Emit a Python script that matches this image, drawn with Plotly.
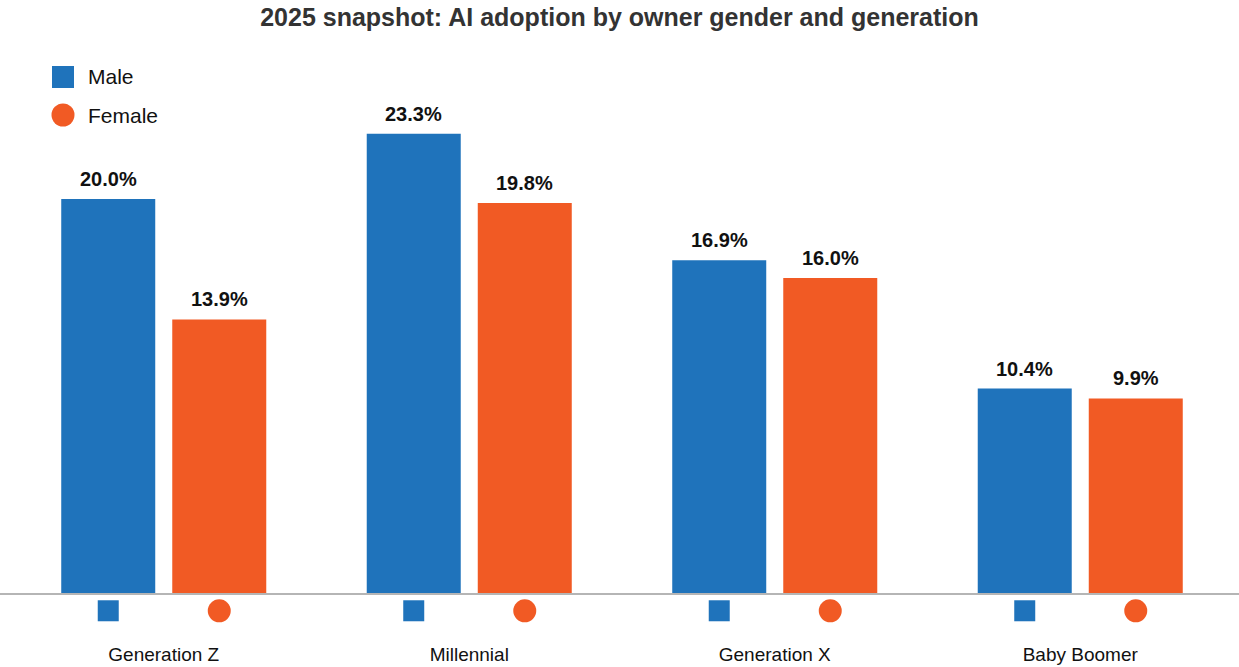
import plotly.graph_objects as go

categories = ["Generation Z", "Millennial", "Generation X", "Baby Boomer"]
male = [20.0, 23.3, 16.9, 10.4]
female = [13.9, 19.8, 16.0, 9.9]
series_names = ["Male", "Female"]

BLUE = "#1f73bb"
ORANGE = "#f15a24"
FONT = "Liberation Sans, Arial, sans-serif"

W, H = 1239, 667
L, R, T, B = 11, 6, 40, 27
bar_w = 0.3077
off = 0.1817
idx = list(range(len(categories)))

fig = go.Figure()
for vals, name, color, sgn in [(male, series_names[0], BLUE, -1), (female, series_names[1], ORANGE, 1)]:
    xs = [i + sgn * off for i in idx]
    fig.add_trace(go.Bar(x=xs, y=vals, width=bar_w, name=name, marker=dict(color=color, line=dict(width=0)),
                         showlegend=False, hoverinfo="y"))
    # marker icons under the axis
    fig.add_trace(go.Scatter(x=xs, y=[-0.85] * len(xs), mode="markers", showlegend=False, hoverinfo="skip",
                             cliponaxis=False,
                             marker=dict(symbol="square" if sgn < 0 else "circle",
                                         size=21 if sgn < 0 else 23, color=color, line=dict(width=0))))
    for x, v in zip(xs, vals):
        fig.add_annotation(x=x, y=v, text=f"<b>{v:.1f}%</b>", showarrow=False, yshift=20, yanchor="middle",
                           font=dict(family=FONT, size=20, color="#111111"))

# zero line
fig.add_shape(type="line", xref="paper", yref="y", x0=-0.01, x1=1.006, y0=0, y1=0,
              line=dict(color="#b5b5b5", width=2), layer="above")

# manual legend
def px_to_paper(px, py):
    return (px - L) / (W - L - R), (H - B - py) / (H - T - B)

for (name, color, sym, cy) in [(series_names[0], BLUE, "rect", 77), (series_names[1], ORANGE, "circle", 115)]:
    xp, yp = px_to_paper(63, cy)
    half = 11 if sym == "rect" else 11.5
    fig.add_shape(type=sym, xref="paper", yref="paper", xsizemode="pixel", ysizemode="pixel",
                  xanchor=xp, yanchor=yp, x0=-half, x1=half, y0=-half, y1=half,
                  fillcolor=color, line=dict(width=0))
    tx, ty = px_to_paper(86, cy)
    fig.add_annotation(xref="paper", yref="paper", x=tx, y=ty, text=name, showarrow=False,
                       xanchor="left", yanchor="middle", font=dict(family=FONT, size=21, color="#111111"))

fig.update_layout(
    width=W, height=H,
    margin=dict(l=L, r=R, t=T, b=B, autoexpand=False),
    paper_bgcolor="white", plot_bgcolor="white",
    title=dict(text="<b>2025 snapshot: AI adoption by owner gender and generation</b>",
               x=0.5, xanchor="center", y=1 - 17 / H, yanchor="middle",
               font=dict(family=FONT, size=25, color="#333333")),
    xaxis=dict(range=[-0.5, 3.5], tickvals=idx, ticktext=categories, showgrid=False, zeroline=False,
               showline=False, ticks="", ticklabelstandoff=1, automargin=False,
               tickfont=dict(family=FONT, size=19, color="#111111"), fixedrange=True),
    yaxis=dict(range=[-2.33, 28.05], visible=False, showgrid=False, zeroline=False, fixedrange=True,
               automargin=False),
    barmode="overlay",
    showlegend=False,
)

fig.write_html(
    "out.html",
    config={"displayModeBar": False},
    post_script="document.body.style.margin='0';document.documentElement.style.overflow='hidden';document.body.style.overflow='hidden';",
)
